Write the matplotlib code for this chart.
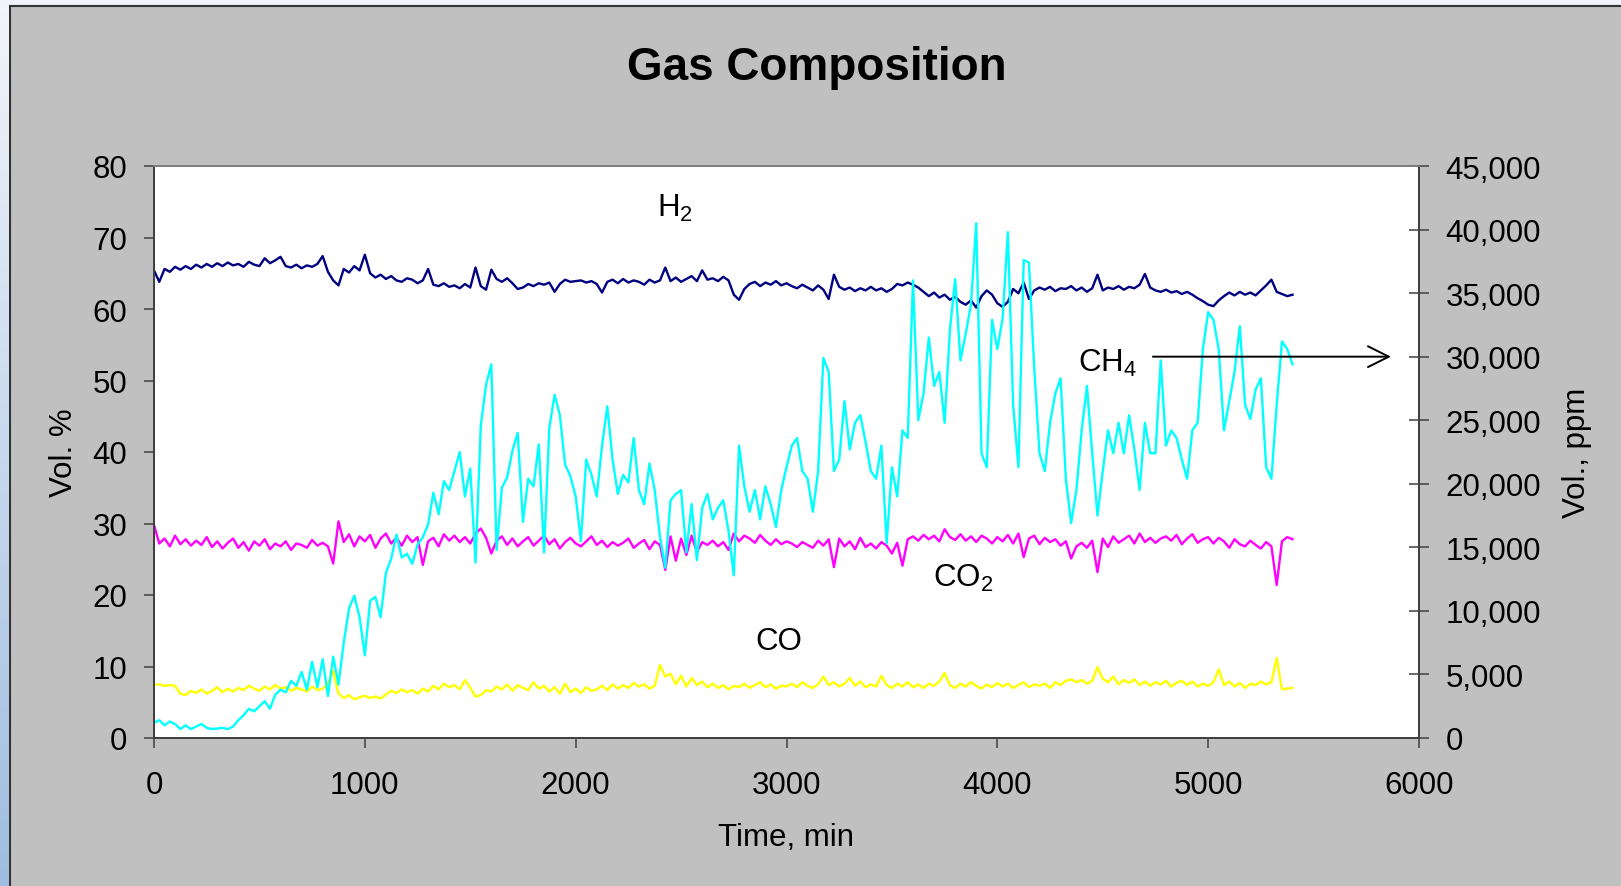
import numpy as np
import matplotlib
matplotlib.use('Agg')
import matplotlib.pyplot as plt
from matplotlib.patches import Rectangle
from matplotlib.colors import LinearSegmentedColormap
from matplotlib.ticker import FuncFormatter

plt.rcParams['font.family'] = ['Liberation Sans', 'DejaVu Sans']
plt.rcParams['mathtext.fontset'] = 'custom'
plt.rcParams['mathtext.rm'] = 'Liberation Sans'

# readings every 25 min, 0 .. 5400 min
t_step = 25

h2 = [65.4, 63.8, 65.6, 65.2, 65.9, 65.5, 66.0, 65.6, 66.2,
      65.8, 66.3, 65.9, 66.4, 66.0, 66.5, 66.1, 66.3,
      65.9, 66.6, 66.2, 66.0, 67.1, 66.4, 66.8, 67.3,
      66.0, 65.8, 66.2, 65.7, 66.1, 65.9, 66.3, 67.4,
      65.2, 64.0, 63.3, 65.6, 65.1, 66.0, 65.4, 67.6,
      65.0, 64.4, 64.8, 64.2, 64.6, 64.0, 63.8, 64.3,
      64.1, 63.6, 64.0, 65.6, 63.4, 63.2, 63.6, 63.1,
      63.3, 62.9, 63.5, 63.0, 65.8, 63.2, 62.7, 65.5,
      64.2, 63.8, 64.3, 63.6, 62.8, 63.0, 63.5, 63.2,
      63.6, 63.4, 63.7, 62.4, 63.5, 64.1, 63.8, 63.9,
      64.0, 63.7, 63.9, 63.5, 62.3, 63.8, 64.1, 63.6,
      64.2, 63.7, 64.0, 63.8, 63.4, 64.1, 63.7, 64.0,
      65.8, 63.9, 64.4, 63.8, 64.2, 64.6, 63.9, 65.4,
      64.1, 64.3, 63.9, 64.5, 64.0, 62.0, 61.3, 62.8,
      63.5, 63.8, 63.2, 63.7, 63.4, 63.9, 63.3, 63.6,
      63.2, 62.9, 63.4, 63.0, 62.6, 63.3, 62.7, 61.4,
      64.8, 63.1, 62.7, 63.0, 62.5, 62.9, 62.6, 63.1,
      62.6, 62.9, 62.4, 62.8, 63.5, 63.3, 63.7, 63.4,
      63.0, 62.4, 61.8, 62.3, 61.6, 62.0, 61.3, 61.7,
      61.0, 60.6, 61.2, 60.2, 61.8, 62.6, 62.0, 60.8,
      60.3, 61.0, 62.8, 62.2, 63.7, 61.4, 62.6, 63.0,
      62.7, 63.1, 62.5, 62.9, 62.8, 63.2, 62.6, 63.0,
      62.4, 62.9, 64.8, 62.6, 63.0, 62.8, 63.2, 62.7,
      63.1, 62.9, 63.4, 64.9, 63.0, 62.6, 62.4, 62.7,
      62.3, 62.5, 62.1, 62.4, 62.0, 61.5, 61.1, 60.6,
      60.4, 61.2, 61.8, 62.3, 61.9, 62.4, 62.0, 62.3,
      61.9, 62.6, 63.3, 64.1, 62.4, 62.1, 61.8, 62.0]

co2 = [29.8, 27.2, 27.9, 26.8, 28.3, 27.1, 27.8, 26.9, 27.6,
       27.0, 28.1, 26.7, 27.5, 26.5, 27.3, 27.9, 26.6,
       27.4, 26.2, 27.5, 26.9, 27.8, 26.4, 27.2, 26.8,
       27.5, 26.3, 27.2, 27.0, 26.6, 27.7, 26.9, 27.3,
       26.8, 24.4, 30.3, 27.4, 28.5, 26.8, 28.2, 27.5,
       28.4, 26.6, 27.9, 28.6, 27.2, 28.0, 26.9, 28.3,
       27.4, 28.1, 24.2, 27.5, 28.0, 26.8, 28.5, 27.6,
       28.3, 27.4, 28.1, 27.2, 28.6, 29.3, 28.0, 25.8,
       27.6, 28.2, 27.0, 27.9, 26.8, 27.5, 28.1, 26.9,
       27.6, 28.3, 27.1, 27.8, 26.5, 27.4, 28.0, 27.2,
       26.8, 27.5, 28.2, 27.0, 27.6, 26.7, 27.4, 26.9,
       27.3, 27.9, 26.6, 27.2, 27.7, 26.4, 27.5, 27.0,
       23.5, 28.2, 24.8, 27.9, 25.6, 28.3, 26.0, 27.4,
       27.0, 27.6, 26.8, 27.4, 26.3, 28.6, 27.5, 28.3,
       27.9, 27.3, 28.4, 27.6, 27.0, 27.8, 27.1, 27.5,
       27.2, 26.7, 27.4, 27.0, 26.6, 27.6, 26.9, 27.8,
       23.9, 27.9, 26.8, 27.5, 26.4, 28.0, 26.7, 27.2,
       26.5, 27.4, 26.9, 25.8, 27.3, 24.1, 27.8, 28.2,
       27.6, 28.4, 27.8, 28.3, 27.5, 29.2, 28.1, 27.7,
       28.5, 27.6, 28.2, 27.4, 28.3, 27.9, 27.2, 28.1,
       27.5, 28.4, 27.2, 28.6, 25.3, 27.9, 28.3, 27.1,
       28.0, 27.4, 27.8, 26.9, 27.5, 25.1, 26.8, 27.3,
       26.6, 27.6, 23.2, 27.9, 26.7, 28.2, 27.3, 27.8,
       28.3, 27.2, 28.6, 27.4, 28.0, 27.3, 27.9, 28.2,
       27.6, 28.4, 27.1, 27.9, 28.5, 27.3, 27.8, 28.1,
       27.2, 28.0, 27.5, 26.6, 27.8, 27.1, 26.8, 27.6,
       27.0, 26.5, 27.4, 26.8, 21.4, 27.5, 28.1, 27.8]

co = [7.4, 7.5, 7.3, 7.4, 7.3, 6.2, 6.0, 6.6, 6.3,
      6.8, 6.2, 6.6, 7.1, 6.4, 6.9, 6.5, 7.0,
      6.7, 7.3, 6.9, 6.6, 7.2, 6.8, 7.4, 6.9,
      7.1, 6.6, 7.0, 6.8, 6.5, 7.2, 6.7, 6.9,
      7.6, 9.4, 6.2, 5.6, 6.0, 5.4, 5.7, 5.9,
      5.6, 5.8, 5.5, 6.1, 6.6, 6.3, 6.8, 6.4,
      6.7, 6.2, 6.9, 6.5, 7.3, 6.8, 7.6, 7.1,
      7.4, 6.8, 8.1, 7.0, 5.8, 6.0, 6.7, 6.5,
      7.2, 6.8, 7.5, 6.6, 7.4, 7.0, 6.7, 7.8,
      6.9, 7.3, 6.5, 7.1, 6.2, 7.6, 6.4, 6.9,
      6.3, 7.1, 6.6, 6.8, 7.3, 6.7, 7.5, 6.9,
      7.4, 7.0, 7.7, 7.2, 7.5, 6.9, 7.3, 10.2,
      8.6, 9.0, 7.5, 8.7, 7.2, 8.4, 7.4, 7.9,
      7.1, 7.6, 7.0, 7.4, 6.8, 7.3, 7.1, 7.6,
      7.0, 7.4, 7.8, 7.1, 7.5, 6.9, 7.3, 7.2,
      7.6, 7.1, 7.8, 7.3, 7.0, 7.5, 8.6, 7.4,
      7.8, 7.2, 7.6, 8.4, 7.3, 7.9, 7.1, 7.5,
      7.2, 8.7, 7.4, 7.0, 7.6, 7.2, 7.8, 7.1,
      7.5, 7.0, 7.6, 7.3, 7.9, 9.1, 7.4, 7.0,
      7.6, 7.2, 7.8, 7.3, 6.9, 7.5, 7.1, 7.7,
      7.2, 7.6, 7.0, 7.4, 7.8, 7.1, 7.5, 7.3,
      7.6, 7.0, 7.8, 7.4, 8.0, 8.2, 7.8, 8.1,
      7.6, 8.0, 9.9, 8.3, 7.8, 8.6, 7.5, 8.1,
      7.7, 8.2, 7.4, 7.9, 7.3, 7.8, 7.5, 8.0,
      7.2, 7.7, 8.0, 7.4, 7.9, 7.2, 7.6, 7.3,
      7.8, 9.6, 7.4, 7.9, 7.2, 7.7, 7.0, 7.6,
      7.4, 7.9, 7.5, 7.8, 11.2, 6.8, 6.9, 7.0]

ch4_ppm = [1200, 1400, 1000, 1300, 1100, 700, 1000, 700, 900,
           1100, 800, 700, 750, 800, 700, 900, 1400,
           1800, 2300, 2100, 2500, 2900, 2300, 3400, 3800,
           3600, 4500, 4100, 5200, 3800, 6000, 4000, 6200,
           3300, 6400, 4200, 7500, 10200, 11200, 9500, 6500,
           10800, 11100, 9500, 13000, 14100, 16000, 14200, 14500,
           13700, 15200, 15800, 16800, 19300, 17600, 20200, 19500,
           21000, 22500, 19000, 21200, 13800, 24600, 27800, 29400,
           14800, 19700, 20500, 22600, 24000, 17000, 20400, 19800,
           23100, 14600, 24400, 27000, 25400, 21500, 20600, 19000,
           15500, 21900, 20700, 19000, 23000, 26100, 21900, 19200,
           20700, 20100, 23600, 19500, 18400, 21600, 19500, 15800,
           13400, 18700, 19200, 19500, 14600, 18400, 14000, 18100,
           19200, 17200, 18100, 18700, 16300, 12800, 23000, 19800,
           17800, 19500, 17200, 19800, 18400, 16600, 19500, 21300,
           23000, 23600, 21000, 20400, 17800, 21000, 29900, 28800,
           21000, 21900, 26500, 22700, 24800, 25400, 23300, 21000,
           20400, 23000, 15300, 21300, 19000, 24200, 23600, 36000,
           25000, 27100, 31500, 27700, 28800, 24800, 32100, 36100,
           29700, 31800, 34100, 40500, 22400, 21300, 32900, 30600,
           33000, 39800, 26200, 21300, 37600, 37400, 29100, 22400,
           21000, 24800, 27100, 28300, 20400, 16900, 19500, 24200,
           27700, 22400, 17500, 21000, 24200, 22400, 24800, 22400,
           25400, 22700, 19500, 24800, 22400, 22400, 29700, 23000,
           24200, 23600, 21900, 20400, 24200, 24800, 30600, 33500,
           32900, 30600, 24200, 26500, 28800, 32400, 26200, 25100,
           27400, 28300, 21300, 20400, 26200, 31200, 30600, 29400]

time_min = np.arange(len(h2)) * t_step

W, H = 1621, 887
fig = plt.figure(figsize=(W / 100, H / 100), dpi=100, facecolor='#eef2f8')

# chart area (grey with border) and the bluish strip on the left
fig.patches.append(Rectangle((10 / W, -0.02), 1.02, (H - 7) / H + 0.02,
                             transform=fig.transFigure, facecolor='#c0c0c0',
                             edgecolor='#333333', lw=1.5, zorder=-1))
strip = fig.add_axes([0, 0, 9 / W, 1])
grad = np.linspace(0, 1, 256).reshape(-1, 1)
strip.imshow(grad, aspect='auto',
             cmap=LinearSegmentedColormap.from_list('s', ['#f2f5fa', '#9fbde0']))
strip.axis('off')

ax = fig.add_axes([154 / W, (H - 739) / H, 1265 / W, 572 / H])
ax.set_facecolor('white')
ax2 = ax.twinx()

ax.plot(time_min, h2, color='#000080', lw=1.7)
ax.plot(time_min, co2, color='#ff00ff', lw=1.7)
ax.plot(time_min, co, color='#ffff00', lw=1.7)
ax2.plot(time_min, ch4_ppm, color='#00ffff', lw=1.7)

ax.set_xlim(0, 6000)
ax.set_ylim(0, 80)
ax2.set_ylim(0, 45000)
ax.set_xticks(range(0, 6001, 1000))
ax.set_yticks(range(0, 81, 10))
ax2.set_yticks(range(0, 45001, 5000))
ax2.yaxis.set_major_formatter(FuncFormatter(lambda v, p: f'{int(v):,}'))

for a in (ax, ax2):
    for s in a.spines.values():
        s.set_color('#404040')
        s.set_linewidth(1.3)
    a.spines['top'].set_color('#808080')
ax.tick_params(axis='both', direction='out', length=7.2, width=1.1, color='#404040',
               labelsize=22.5, pad=12)
ax.tick_params(axis='x', pad=16)
ax2.tick_params(axis='y', direction='inout', length=14.4, width=1.1, color='#404040',
                labelsize=22.5, pad=12)

ax.set_xlabel('Time, min', fontsize=22.5)
ax.set_ylabel('Vol. %', fontsize=22.5)
ax2.set_ylabel('Vol., ppm', fontsize=22.5, rotation=90)
ax.xaxis.set_label_coords(0.5, -0.146)
ax.yaxis.set_label_coords(-0.059, 0.5)
ax2.yaxis.set_label_coords(1.113, 0.5)

fig.text(817 / W, 1 - 68 / H, 'Gas Composition', ha='center', va='center',
         fontsize=33, fontweight='bold')

# gas labels
ax.text(2384, 73.0, r'$\mathregular{H_2}$', fontsize=22.5, va='baseline')
ax.text(2851, 12.5, 'CO', fontsize=22.5, va='baseline')
ax.text(3693, 21.3, r'$\mathregular{CO_2}$', fontsize=22.5, va='baseline')
ax.text(4383, 51.3, r'$\mathregular{CH_4}$', fontsize=22.5, va='baseline')
ax2.annotate('', xy=(5867, 30000), xytext=(4738, 30000),
             arrowprops=dict(arrowstyle='->, head_length=1.5, head_width=0.75',
                             mutation_scale=10, color='black', lw=1.4,
                             shrinkA=0, shrinkB=0))

fig.savefig('out.png', dpi=100, facecolor=fig.get_facecolor())
